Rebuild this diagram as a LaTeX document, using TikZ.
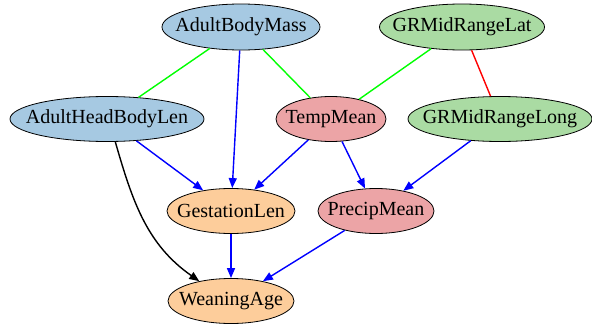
\documentclass[tikz,border=0pt]{standalone}
\usepackage{fontspec}
\setmainfont{Liberation Serif}
\usetikzlibrary{shapes.geometric,arrows.meta}
\definecolor{cblue}{RGB}{166,201,226}
\definecolor{cgreen}{RGB}{170,219,163}
\definecolor{cpink}{RGB}{236,164,166}
\definecolor{corange}{RGB}{253,205,155}
\definecolor{egreen}{RGB}{0,255,0}
% labels are set in a zero-width box so the ellipse keeps its given size
\newcommand{\vlabel}[1]{\makebox[0pt][c]{#1}}
\tikzset{
  var/.style={ellipse, draw=black, line width=0.8pt, inner sep=0pt,
    font=\fontsize{20}{22}\selectfont},
  link/.style={line width=1.4pt},
  arc/.style={line width=1.4pt, -{Triangle[length=10pt,width=8pt]}},
}
\begin{document}
\begin{tikzpicture}[x=1pt,y=-1pt]
\useasboundingbox (0,0) rectangle (592,324);
\node[var, fill=cblue, minimum width=158pt, minimum height=46pt] (abm) at (241,27) {\vlabel{AdultBodyMass}};
\node[var, fill=cgreen, minimum width=165pt, minimum height=46pt] (lat) at (462,27) {\vlabel{GRMidRangeLat}};
\node[var, fill=cblue, minimum width=194pt, minimum height=45pt] (ahbl) at (107,119) {\vlabel{AdultHeadBodyLen}};
\node[var, fill=cpink, minimum width=110pt, minimum height=45pt] (temp) at (331,119) {\vlabel{TempMean}};
\node[var, fill=cgreen, minimum width=184pt, minimum height=45pt] (long) at (500,119) {\vlabel{GRMidRangeLong}};
\node[var, fill=corange, minimum width=128pt, minimum height=45pt] (gest) at (231,211) {\vlabel{GestationLen}};
\node[var, fill=cpink, minimum width=116pt, minimum height=45pt] (precip) at (376,211) {\vlabel{PrecipMean}};
\node[var, fill=corange, minimum width=126pt, minimum height=45pt] (wean) at (231,301) {\vlabel{WeaningAge}};

\draw[link, egreen] (abm) -- (ahbl);
\draw[link, egreen] (abm) -- (temp);
\draw[link, egreen] (lat) -- (temp);
\draw[link, red] (lat) -- (long);

\draw[arc, blue] (abm) -- (gest);
\draw[arc, blue] (ahbl) -- (gest);
\draw[arc, blue] (temp) -- (gest);
\draw[arc, blue] (temp) -- (precip);
\draw[arc, blue] (long) -- (precip);
\draw[arc, blue] (gest) -- (wean);
\draw[arc, blue] (precip) -- (wean);
\draw[arc, black] (ahbl.-70) to[out=-74, in=145] (wean.148);
\end{tikzpicture}
\end{document}
